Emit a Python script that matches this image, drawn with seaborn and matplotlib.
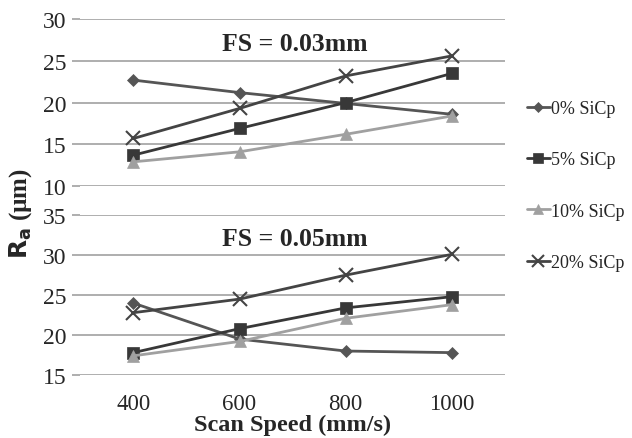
import pandas as pd
import matplotlib
matplotlib.use("Agg")
import matplotlib.pyplot as plt
import seaborn as sns

speeds = [400, 600, 800, 1000]
series_names = ["0% SiCp", "5% SiCp", "10% SiCp", "20% SiCp"]

# FS = 0.03mm
ra_03_sic0 = [22.7, 21.2, 19.9, 18.6]
ra_03_sic5 = [13.7, 16.9, 20.0, 23.5]
ra_03_sic10 = [12.9, 14.1, 16.2, 18.4]
ra_03_sic20 = [15.7, 19.3, 23.2, 25.6]

# FS = 0.05mm
ra_05_sic0 = [24.0, 19.5, 18.0, 17.8]
ra_05_sic5 = [17.8, 20.8, 23.4, 24.8]
ra_05_sic10 = [17.4, 19.2, 22.1, 23.8]
ra_05_sic20 = [22.8, 24.5, 27.5, 30.1]

colors = {"0% SiCp": "#555555", "5% SiCp": "#383838",
          "10% SiCp": "#a0a0a0", "20% SiCp": "#444444"}
markers = {"0% SiCp": "D", "5% SiCp": "s", "10% SiCp": "^", "20% SiCp": "x"}
msizes = {"0% SiCp": 6, "5% SiCp": 9, "10% SiCp": 9, "20% SiCp": 10}


def make_df(vals):
    rows = []
    for name, v in zip(series_names, vals):
        for s, r in zip(speeds, v):
            rows.append({"speed": s, "ra": r, "series": name})
    return pd.DataFrame(rows)


df03 = make_df([ra_03_sic0, ra_03_sic5, ra_03_sic10, ra_03_sic20])
df05 = make_df([ra_05_sic0, ra_05_sic5, ra_05_sic10, ra_05_sic20])

sns.set_theme(style="white")
plt.rcParams["font.family"] = ["Liberation Serif", "DejaVu Serif"]

fig = plt.figure(figsize=(6.32, 4.39), dpi=100)
ax1 = fig.add_axes([0.127, 0.574, 0.672, 0.380])
ax2 = fig.add_axes([0.127, 0.1435, 0.672, 0.364])


def draw(ax, df, ylim, title):
    for name in series_names:
        sub = df[df.series == name]
        sns.lineplot(data=sub, x="speed", y="ra", ax=ax, color=colors[name],
                     marker=markers[name], markersize=msizes[name],
                     markeredgewidth=1.5 if name == "20% SiCp" else 0.5,
                     markeredgecolor=colors[name], linewidth=2.0,
                     label=name, legend=False)
    ax.set_xlim(300, 1100)
    ax.set_ylim(*ylim)
    ax.set_yticks(range(ylim[0], ylim[1] + 1, 5))
    ax.yaxis.grid(True, color="#a8a8a8", linewidth=1.3)
    ax.xaxis.grid(False)
    for sp in ax.spines.values():
        sp.set_visible(False)
    ax.tick_params(axis="y", length=6, width=1.3, color="#a8a8a8",
                   labelsize=17, pad=4, left=True)
    ax.set_xlabel("")
    ax.set_ylabel("")
    ax.text(0.505, 0.855, title, transform=ax.transAxes, ha="center",
            va="center", fontsize=18.5, fontweight="bold")
    ax.set_axisbelow(True)


draw(ax1, df03, (10, 30), "FS = 0.03mm")
draw(ax2, df05, (15, 35), "FS = 0.05mm")

ax1.set_xticks([])
ax1.tick_params(axis="x", bottom=False, labelbottom=False)
ax2.set_xticks(speeds)
ax2.set_xticklabels([str(s) for s in speeds])
ax2.tick_params(axis="x", bottom=False, labelsize=16.5, pad=7)
ax2.set_xlabel("Scan Speed (mm/s)", fontsize=17.5, fontweight="bold",
               labelpad=0)

fig.text(0.032, 0.513, r"$\mathbf{R_a}$ (µm)", rotation=90, ha="center",
         va="center", fontsize=18, fontweight="bold")

handles, labels = ax1.get_legend_handles_labels()
fig.legend(handles, labels, loc="center left", bbox_to_anchor=(0.822, 0.575),
           frameon=False, fontsize=13, labelspacing=1.9, handlelength=1.3,
           handletextpad=0.05, borderaxespad=0, markerscale=0.8)

fig.savefig("out.png", dpi=100)
